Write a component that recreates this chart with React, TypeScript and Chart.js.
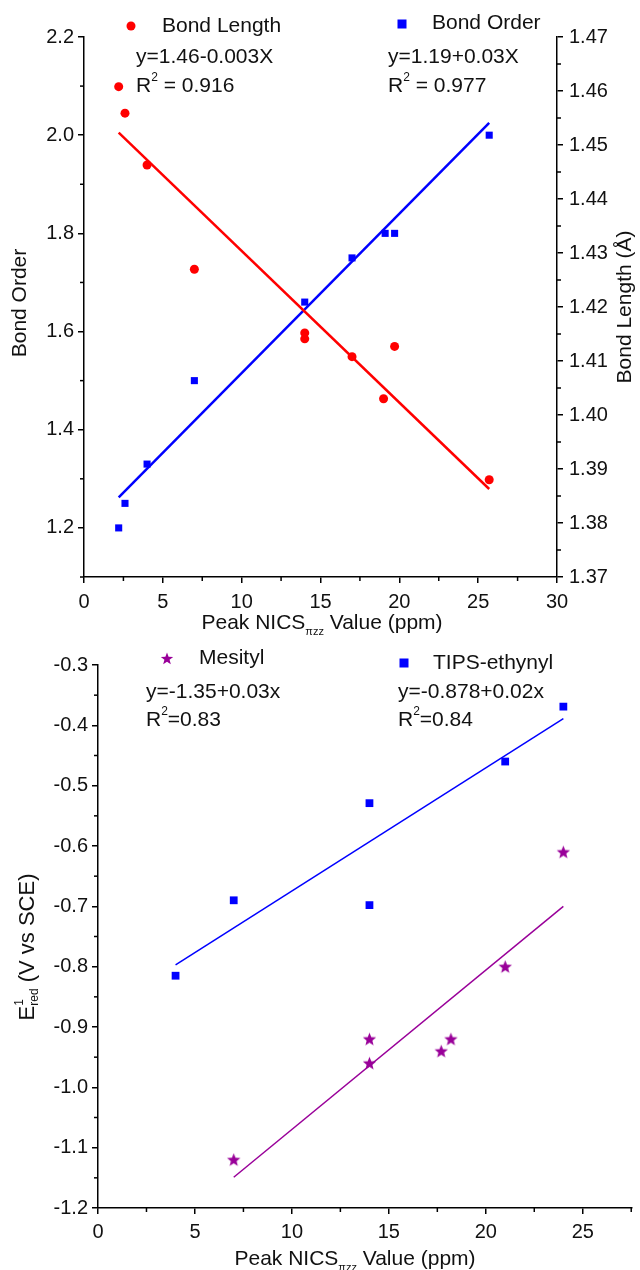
import React, { useEffect, useRef } from "react";
import { Chart, registerables } from "chart.js";

Chart.register(...registerables);

// ---------- Top chart data ----------
const lengthNics = [2.2, 2.6, 4.0, 7.0, 14.0, 14.0, 17.0, 19.0, 19.7, 25.7];
const bondLength = [1.4608, 1.4559, 1.4463, 1.427, 1.4152, 1.4141, 1.4108, 1.403, 1.4127, 1.388];
const orderNics = [2.2, 2.6, 4.0, 7.0, 14.0, 17.0, 19.1, 19.7, 25.7];
const bondOrder = [1.2, 1.25, 1.33, 1.5, 1.66, 1.75, 1.8, 1.8, 2.0];
const lengthFitX = [2.2, 25.7];
const lengthFitY = [1.4523, 1.3863];
const orderFitX = [2.2, 25.7];
const orderFitY = [1.262, 2.025];
const topXTicks = [0, 5, 10, 15, 20, 25, 30];
const topXMinor = [2.5, 7.5, 12.5, 17.5, 22.5, 27.5];
const orderTicks = [1.2, 1.4, 1.6, 1.8, 2.0, 2.2];
const orderMinor = [1.1, 1.3, 1.5, 1.7, 1.9, 2.1];
const lengthTicks = [1.37, 1.38, 1.39, 1.4, 1.41, 1.42, 1.43, 1.44, 1.45, 1.46, 1.47];
const lengthMinor = [1.375, 1.385, 1.395, 1.405, 1.415, 1.425, 1.435, 1.445, 1.455, 1.465];

// ---------- Bottom chart data ----------
const mesitylNics = [7.0, 14.0, 14.0, 17.7, 18.2, 21.0, 24.0];
const mesitylE = [-1.12, -0.92, -0.96, -0.94, -0.92, -0.8, -0.61];
const tipsNics = [4.0, 7.0, 14.0, 14.0, 21.0, 24.0];
const tipsE = [-0.815, -0.69, -0.529, -0.698, -0.46, -0.369];
const mesitylFitX = [7.0, 24.0];
const mesitylFitY = [-1.149, -0.7];
const tipsFitX = [4.0, 24.0];
const tipsFitY = [-0.797, -0.389];
const botXTicks = [0, 5, 10, 15, 20, 25];
const botXMinor = [2.5, 7.5, 12.5, 17.5, 22.5, 27.5];
const eTicks = [-1.2, -1.1, -1.0, -0.9, -0.8, -0.7, -0.6, -0.5, -0.4, -0.3];
const eMinor = [-1.15, -1.05, -0.95, -0.85, -0.75, -0.65, -0.55, -0.45, -0.35];

const FONT = '"Liberation Sans", Arial, sans-serif';
const RED = "#ff0000";
const BLUE = "#0000ff";
const PURPLE = "#990099";
const TXT = "#111";
const FS = 21;
const TICK_FS = 20;

function starPath(ctx: CanvasRenderingContext2D, cx: number, cy: number, ro: number, ri: number) {
  ctx.beginPath();
  for (let i = 0; i < 10; i++) {
    const r = i % 2 === 0 ? ro : ri;
    const a = -Math.PI / 2 + (i * Math.PI) / 5;
    const px = cx + r * Math.cos(a);
    const py = cy + r * Math.sin(a);
    if (i === 0) ctx.moveTo(px, py);
    else ctx.lineTo(px, py);
  }
  ctx.closePath();
}

function makeStar(size: number, color: string) {
  const c = document.createElement("canvas");
  c.width = size;
  c.height = size;
  const ctx = c.getContext("2d")!;
  ctx.fillStyle = color;
  starPath(ctx, size / 2, size / 2 + 0.5, size / 2 - 0.5, size / 5);
  ctx.fill();
  return c;
}

type Part = { t: string; size?: number; dy?: number; noAdvance?: boolean };
type TextItem = { x: number; y: number; parts: Part[]; rot?: number; align?: "left" | "center"; size?: number };
type Marker = { x: number; y: number; kind: "circle" | "square" | "star"; color: string };
type Minor = { axis: string; side: "left" | "right" | "bottom"; values: number[]; len: number };

function drawRich(ctx: CanvasRenderingContext2D, item: TextItem) {
  ctx.save();
  ctx.fillStyle = TXT;
  ctx.textBaseline = "middle";
  ctx.textAlign = "left";
  const base = item.size || FS;
  let total = 0;
  item.parts.forEach((p) => {
    ctx.font = `${p.size || base}px ${FONT}`;
    if (!p.noAdvance) total += ctx.measureText(p.t).width;
  });
  ctx.translate(item.x, item.y);
  if (item.rot) ctx.rotate(item.rot);
  let x = item.align === "center" ? -total / 2 : 0;
  item.parts.forEach((p) => {
    ctx.font = `${p.size || base}px ${FONT}`;
    ctx.fillText(p.t, x, p.dy || 0);
    if (!p.noAdvance) x += ctx.measureText(p.t).width;
  });
  ctx.restore();
}

const decorPlugin = {
  id: "decor",
  afterDraw(chart: any, _args: any, opts: any) {
    const ctx: CanvasRenderingContext2D = chart.ctx;
    const area = chart.chartArea;
    ctx.save();
    ctx.strokeStyle = "#000";
    ctx.lineWidth = 1.5;
    (opts.minor || []).forEach((m: Minor) => {
      const sc = chart.scales[m.axis];
      m.values.forEach((v) => {
        const p = sc.getPixelForValue(v);
        ctx.beginPath();
        if (m.side === "left") {
          ctx.moveTo(area.left, p);
          ctx.lineTo(area.left - m.len, p);
        } else if (m.side === "right") {
          ctx.moveTo(area.right, p);
          ctx.lineTo(area.right + m.len, p);
        } else {
          ctx.moveTo(p, area.bottom);
          ctx.lineTo(p, area.bottom + m.len);
        }
        ctx.stroke();
      });
    });
    ctx.restore();
    (opts.markers || []).forEach((mk: Marker) => {
      ctx.save();
      ctx.fillStyle = mk.color;
      if (mk.kind === "circle") {
        ctx.beginPath();
        ctx.arc(mk.x, mk.y, 4.5, 0, Math.PI * 2);
        ctx.fill();
      } else if (mk.kind === "square") {
        ctx.fillRect(mk.x - 4.5, mk.y - 4.5, 9, 9);
      } else {
        starPath(ctx, mk.x, mk.y, 6.5, 2.7);
        ctx.fill();
      }
      ctx.restore();
    });
    (opts.texts || []).forEach((t: TextItem) => drawRich(ctx, t));
  },
};

function axisBase(ticks: number[], fmt: (v: number) => string, fit: (s: any) => void, pad: number) {
  return {
    type: "linear" as const,
    afterBuildTicks: (axis: any) => {
      axis.ticks = ticks.map((v) => ({ value: v }));
    },
    afterFit: fit,
    ticks: {
      callback: (v: any) => fmt(Number(v)),
      font: { family: FONT, size: TICK_FS },
      color: TXT,
      padding: pad,
      maxRotation: 0,
      autoSkip: false,
    },
    grid: {
      drawOnChartArea: false,
      drawTicks: true,
      tickLength: 6,
      color: "#000",
      lineWidth: 1.5,
    },
    border: { display: true, color: "#000", width: 1.5 },
    title: { display: false },
  };
}

function pts(xs: number[], ys: number[]) {
  return xs.map((x, i) => ({ x, y: ys[i] }));
}

function r2(x: number, y: number, val: string, spaced: boolean): TextItem {
  return {
    x,
    y,
    parts: [{ t: "R" }, { t: "2", size: 12, dy: -8 }, { t: spaced ? " = " + val : "=" + val }],
  };
}

function topConfig(): any {
  return {
    type: "scatter",
    data: {
      datasets: [
        {
          label: "Bond Length",
          data: pts(lengthNics, bondLength),
          yAxisID: "yR",
          pointStyle: "circle",
          pointRadius: 4.5,
          backgroundColor: RED,
          borderColor: RED,
          borderWidth: 0,
        },
        {
          label: "Bond Order",
          data: pts(orderNics, bondOrder),
          yAxisID: "y",
          pointStyle: "rect",
          pointRadius: 5,
          backgroundColor: BLUE,
          borderColor: BLUE,
          borderWidth: 0,
        },
        {
          label: "Length fit",
          data: pts(lengthFitX, lengthFitY),
          yAxisID: "yR",
          showLine: true,
          pointRadius: 0,
          borderColor: RED,
          borderWidth: 2.5,
        },
        {
          label: "Order fit",
          data: pts(orderFitX, orderFitY),
          yAxisID: "y",
          showLine: true,
          pointRadius: 0,
          borderColor: BLUE,
          borderWidth: 2.5,
        },
      ],
    },
    options: {
      animation: false,
      responsive: false,
      layout: { padding: { left: 0, right: 0, top: 37, bottom: 0 } },
      plugins: {
        legend: { display: false },
        tooltip: { enabled: false },
        decor: {
          minor: [
            { axis: "x", side: "bottom", values: topXMinor, len: 4 },
            { axis: "y", side: "left", values: orderMinor, len: 4 },
            { axis: "yR", side: "right", values: lengthMinor, len: 4 },
          ],
          markers: [
            { x: 131, y: 26, kind: "circle", color: RED },
            { x: 402, y: 24, kind: "square", color: BLUE },
          ],
          texts: [
            { x: 162, y: 26, parts: [{ t: "Bond Length" }] },
            { x: 432, y: 23, parts: [{ t: "Bond Order" }] },
            { x: 136, y: 57, parts: [{ t: "y=1.46-0.003X" }] },
            r2(136, 86, "0.916", true),
            { x: 388, y: 57, parts: [{ t: "y=1.19+0.03X" }] },
            r2(388, 86, "0.977", true),
            {
              x: 322,
              y: 623,
              align: "center",
              parts: [{ t: "Peak NICS" }, { t: "\u03c0zz", size: 11, dy: 9 }, { t: " Value (ppm)" }],
            },
            { x: 20, y: 303, align: "center", rot: -Math.PI / 2, parts: [{ t: "Bond Order" }] },
            { x: 625, y: 307, align: "center", rot: -Math.PI / 2, parts: [{ t: "Bond Length (\u00c5)" }] },
          ],
        },
      },
      scales: {
        x: {
          ...axisBase(topXTicks, (v) => String(v), (s: any) => (s.height = 63), 7),
          position: "bottom",
          min: 0,
          max: 30,
        },
        y: {
          ...axisBase(orderTicks, (v) => v.toFixed(1), (s: any) => (s.width = 84), 4),
          position: "left",
          min: 1.1,
          max: 2.2,
        },
        yR: {
          ...axisBase(lengthTicks, (v) => v.toFixed(2), (s: any) => (s.width = 83), 6),
          position: "right",
          min: 1.37,
          max: 1.47,
        },
      },
    },
    plugins: [decorPlugin],
  };
}

function bottomConfig(): any {
  const star = makeStar(15, PURPLE);
  return {
    type: "scatter",
    data: {
      datasets: [
        {
          label: "Mesityl",
          data: pts(mesitylNics, mesitylE),
          pointStyle: star,
          pointRadius: 7,
          backgroundColor: PURPLE,
          borderColor: PURPLE,
        },
        {
          label: "TIPS-ethynyl",
          data: pts(tipsNics, tipsE),
          pointStyle: "rect",
          pointRadius: 5.5,
          backgroundColor: BLUE,
          borderColor: BLUE,
          borderWidth: 0,
        },
        {
          label: "Mesityl fit",
          data: pts(mesitylFitX, mesitylFitY),
          showLine: true,
          pointRadius: 0,
          borderColor: PURPLE,
          borderWidth: 1.5,
        },
        {
          label: "TIPS fit",
          data: pts(tipsFitX, tipsFitY),
          showLine: true,
          pointRadius: 0,
          borderColor: BLUE,
          borderWidth: 1.5,
        },
      ],
    },
    options: {
      animation: false,
      responsive: false,
      layout: { padding: { left: 0, right: 0, top: 25, bottom: 0 } },
      plugins: {
        legend: { display: false },
        tooltip: { enabled: false },
        decor: {
          minor: [
            { axis: "x", side: "bottom", values: botXMinor, len: 4 },
            { axis: "y", side: "left", values: eMinor, len: 4 },
          ],
          markers: [
            { x: 167, y: 19, kind: "star", color: PURPLE },
            { x: 404, y: 23, kind: "square", color: BLUE },
          ],
          texts: [
            { x: 199, y: 18, parts: [{ t: "Mesityl" }] },
            { x: 433, y: 23, parts: [{ t: "TIPS-ethynyl" }] },
            { x: 146, y: 52, parts: [{ t: "y=-1.35+0.03x" }] },
            r2(146, 80, "0.83", false),
            { x: 398, y: 52, parts: [{ t: "y=-0.878+0.02x" }] },
            r2(398, 80, "0.84", false),
            {
              x: 355,
              y: 619,
              align: "center",
              parts: [{ t: "Peak NICS" }, { t: "\u03c0zz", size: 11, dy: 9 }, { t: " Value (ppm)" }],
            },
            {
              x: 28,
              y: 307,
              align: "center",
              rot: -Math.PI / 2,
              size: 22,
              parts: [
                { t: "E" },
                { t: "1", size: 12, dy: -8, noAdvance: true },
                { t: "red", size: 12, dy: 7 },
                { t: " (V vs SCE)" },
              ],
            },
          ],
        },
      },
      scales: {
        x: {
          ...axisBase(botXTicks, (v) => String(v), (s: any) => (s.height = 62), 6),
          position: "bottom",
          min: 0,
          max: 27.54,
        },
        y: {
          ...axisBase(eTicks, (v) => v.toFixed(1), (s: any) => (s.width = 98), 4),
          position: "left",
          min: -1.2,
          max: -0.3,
        },
      },
    },
    plugins: [decorPlugin],
  };
}

function ChartCanvas({ width, height, make }: { width: number; height: number; make: () => any }) {
  const ref = useRef<HTMLCanvasElement | null>(null);
  useEffect(() => {
    if (!ref.current) return;
    const chart = new Chart(ref.current, make());
    return () => chart.destroy();
  }, [make]);
  return <canvas ref={ref} width={width} height={height} style={{ display: "block", width, height }} />;
}

export default function App() {
  return (
    <div style={{ position: "absolute", left: 0, top: 0, width: 640, height: 1270, background: "#fff" }}>
      <ChartCanvas width={640} height={640} make={topConfig} />
      <ChartCanvas width={640} height={630} make={bottomConfig} />
    </div>
  );
}
